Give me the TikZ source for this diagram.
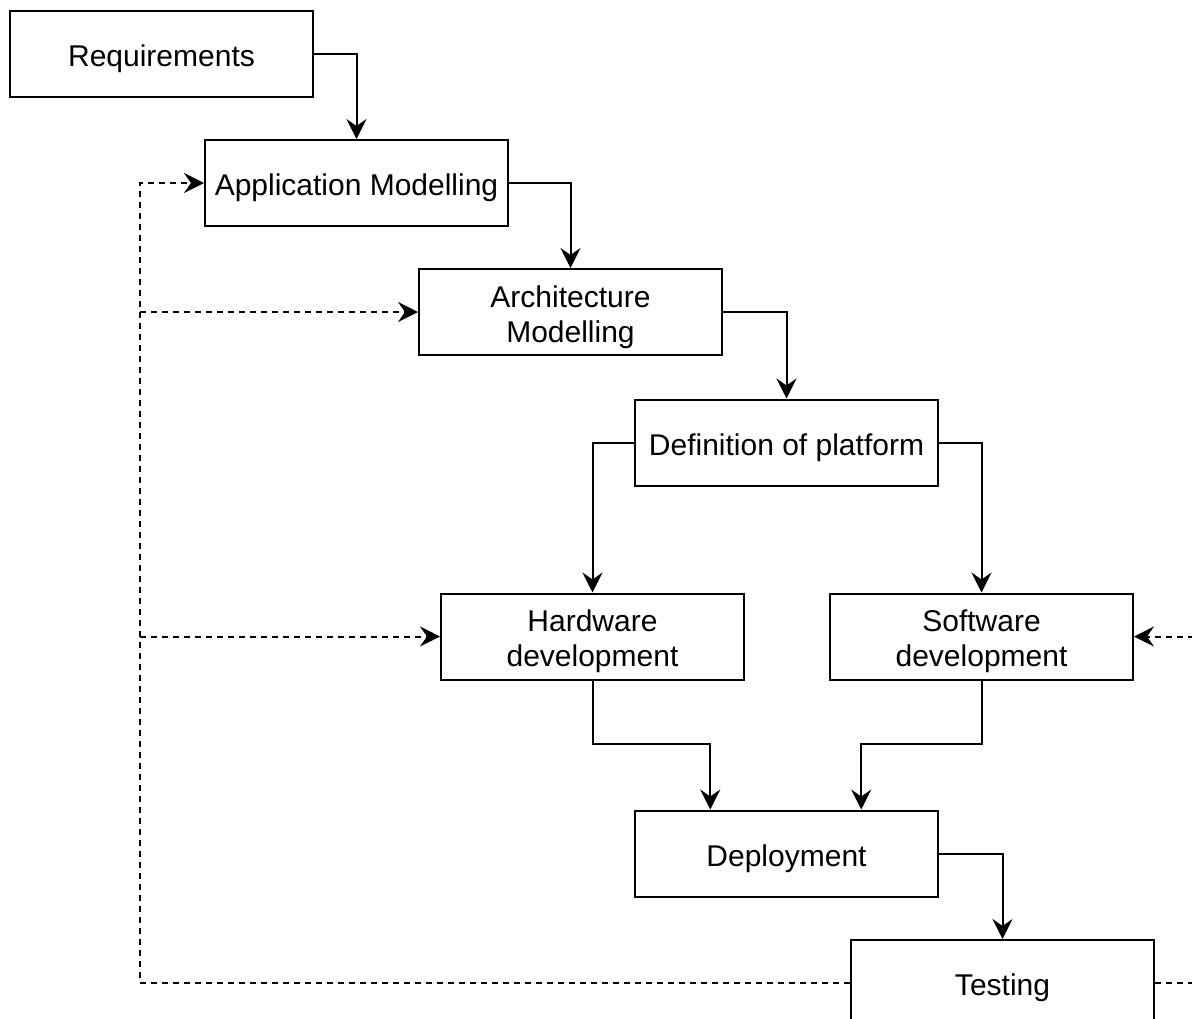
\documentclass[tikz,border=0pt]{standalone}
\usepackage{fontspec}
\setmainfont{Liberation Sans}
\usetikzlibrary{arrows.meta,calc}
\begin{document}
\begin{tikzpicture}[x=0.5pt,y=-0.5pt,
  stagebox/.style={draw,line width=1pt,minimum width=151.5pt,minimum height=43pt,
    inner sep=0pt,
    label={[align=center,inner sep=0pt,yshift=-2.6pt,
            font=\fontsize{15}{17.5}\selectfont]center:#1}},
  flow/.style={line width=1pt,-{Stealth[length=10pt,width=10pt,inset=3.5pt]}},
  feedback/.style={flow,dash pattern=on 3pt off 2.5pt}]
\clip (0,0) rectangle (1192,1018);
\fill[white] (0,0) rectangle (1192,1018);

% process stages
\node[stagebox={Requirements}]             (req)  at (161.5,54)    {};
\node[stagebox={Application Modelling}]    (app)  at (356.5,183)   {};
\node[stagebox={Architecture\\Modelling}]  (arch) at (570.5,312)   {};
\node[stagebox={Definition of platform}]   (def)  at (786.5,442.5) {};
\node[stagebox={Hardware\\development}]    (hw)   at (592.5,636.5) {};
\node[stagebox={Software\\development}]    (sw)   at (981.5,636.5) {};
\node[stagebox={Deployment}]               (dep)  at (786.5,853.5) {};
\node[stagebox={Testing}]                  (test) at (1002.5,983)  {};

% helper positions for the joins and the feedback bus
\coordinate (merge) at (0,744);
\coordinate (bus)   at (140,0);
\coordinate (outer) at (1210,0);

% main flow
\draw[flow] (req.east) -| (app.north);
\draw[flow] (app.east) -| (arch.north);
\draw[flow] (arch.east) -| (def.north);
\draw[flow] (def.west) -| (hw.north);
\draw[flow] (def.east) -| (sw.north);
\draw[flow] (hw.south) -- (hw.south |- merge)
  -| ($(dep.north west)!0.25!(dep.north east)$);
\draw[flow] (sw.south) -- (sw.south |- merge)
  -| ($(dep.north west)!0.745!(dep.north east)$);
\draw[flow] (dep.east) -| (test.north);

% feedback from testing
\draw[feedback] (test.west) -| (bus |- app.west) -- (app.west);
\draw[feedback] (bus |- arch.west) -- (arch.west);
\draw[feedback] (bus |- hw.west) -- (hw.west);
\draw[feedback] (test.east) -| (outer |- sw.east) -- (sw.east);
\end{tikzpicture}
\end{document}
